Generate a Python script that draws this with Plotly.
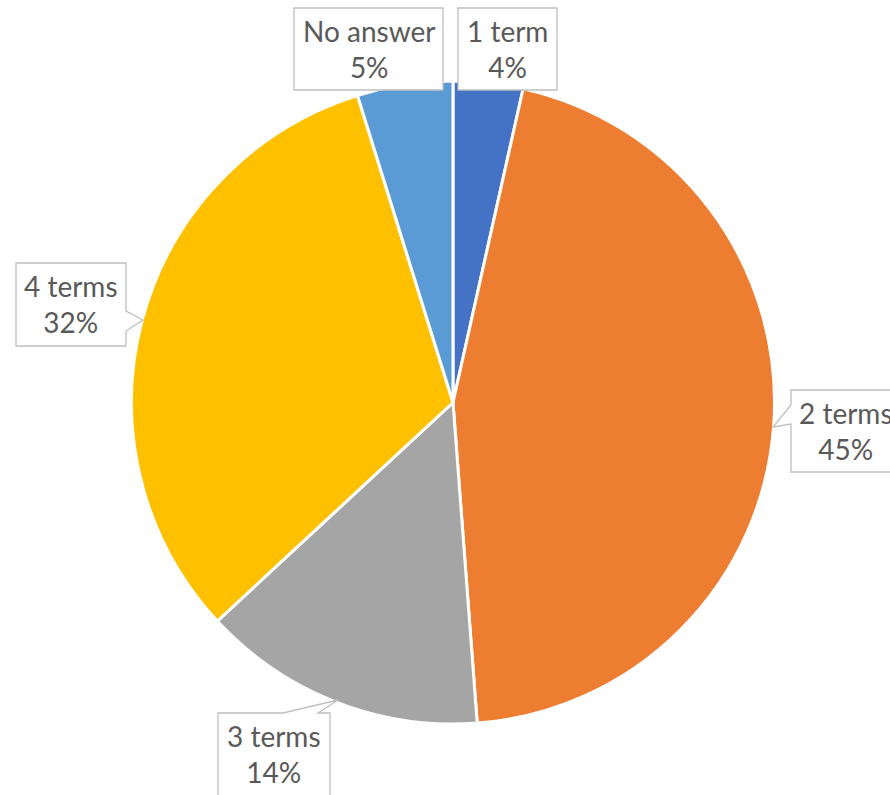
import plotly.graph_objects as go

# slice data (clockwise from 12 o'clock)
categories = ["1 term", "2 terms", "3 terms", "4 terms", "No answer"]
slice_sizes = [3.5, 45.3, 14.3, 32.1, 4.8]
pct_labels = ["4%", "45%", "14%", "32%", "5%"]
colors = ["#4472C4", "#ED7D31", "#A5A5A5", "#FFC000", "#5B9BD5"]

W, H = 890, 795

def px(x):
    return x / W

def py(y):
    return 1 - y / H

# callout boxes in pixels: (left, top, right, bottom), pointer polyline or None
callouts = {
    "1 term": ((458, 8, 557, 90), None),
    "2 terms": ((791, 390, 900, 472), ("left", [(791, 424), (773, 427), (791, 405)])),
    "3 terms": ((218, 713, 330, 800), ("top", [(283, 713), (338, 700), (318, 713)])),
    "4 terms": ((16, 263, 126, 346), ("right", [(126, 311), (143, 320), (126, 331)])),
    "No answer": ((294, 8, 443, 90), None),
}

fig = go.Figure(go.Pie(
    labels=categories, values=slice_sizes, sort=False, direction="clockwise",
    rotation=0, textinfo="none", hoverinfo="label+percent",
    marker=dict(colors=colors, line=dict(color="white", width=3)),
    domain=dict(x=[131.5 / W, 774.5 / W], y=[py(724), py(81)]),
))

shapes = []
annotations = []
for cat, pct in zip(categories, pct_labels):
    (l, t, r, b), ptr = callouts[cat]
    # box outline with the pointer inserted into the proper edge
    pts = [(l, t)]
    if ptr and ptr[0] == "top":
        pts += ptr[1]
    pts.append((r, t))
    if ptr and ptr[0] == "right":
        pts += ptr[1]
    pts.append((r, b))
    pts.append((l, b))
    if ptr and ptr[0] == "left":
        pts += ptr[1]
    path = "M " + " L ".join(f"{px(x):.5f},{py(y):.5f}" for x, y in pts) + " Z"
    shapes.append(dict(type="path", xref="paper", yref="paper", path=path,
                       fillcolor="white", line=dict(color="#BFBFBF", width=1.3),
                       layer="above"))
    annotations.append(dict(
        x=px((l + r) / 2), y=py(t + 41), xref="paper", yref="paper",
        text=f"{cat}<br>{pct}", showarrow=False, xanchor="center", yanchor="middle",
        font=dict(family="Lato", size=28, color="#595959"), align="center"))

fig.update_layout(
    width=W, height=H, margin=dict(l=0, r=0, t=0, b=0),
    paper_bgcolor="white", plot_bgcolor="white", showlegend=False,
    shapes=shapes, annotations=annotations,
)

# drop the default page margin so the figure fills the window exactly
fig.write_html("out.html", config={"displayModeBar": False},
               post_script="document.body.style.margin='0';document.body.style.overflow='hidden';")
